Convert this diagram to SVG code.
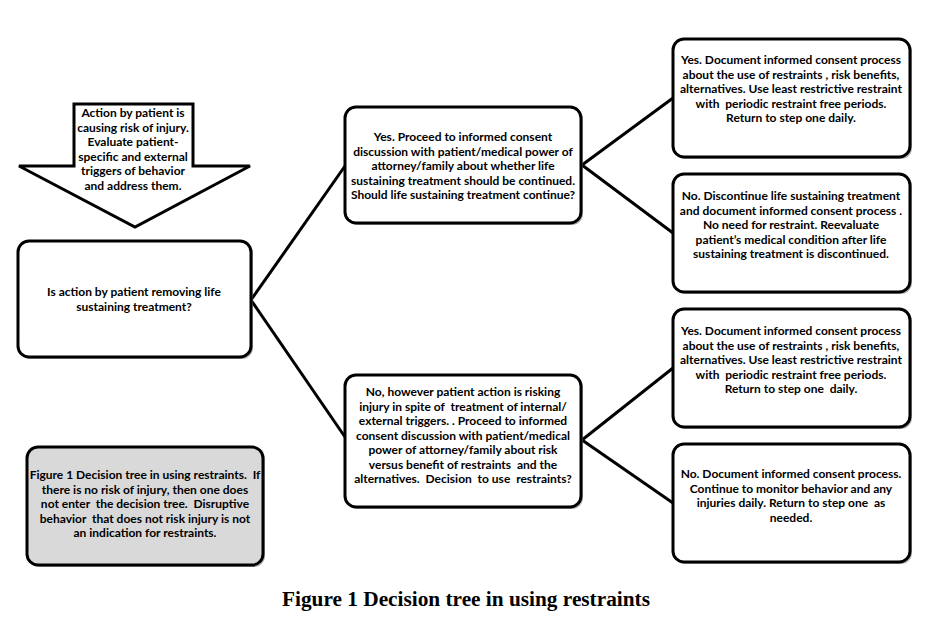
<svg xmlns="http://www.w3.org/2000/svg" width="932" height="623" viewBox="0 0 932 623">
<style>
.box{fill:#ffffff;stroke:#000000;stroke-width:3}
.gbox{fill:#d9d9d9;stroke:#000000;stroke-width:3}
.sh{fill:#7f7f7f;opacity:0.6}
.t{font-family:Lato,"Liberation Sans",sans-serif;font-weight:bold;font-size:12px;fill:#000000;text-anchor:middle;white-space:pre}
.title{font-family:"Liberation Serif",serif;font-weight:bold;font-size:21.3px;fill:#000000;text-anchor:middle}
.conn{stroke:#000000;stroke-width:3;fill:none}
</style>
<rect width="932" height="623" fill="#ffffff"/>
<g id="connectors">
<line class="conn" x1="251" y1="300" x2="345" y2="166"/>
<line class="conn" x1="251" y1="300" x2="345" y2="437"/>
<line class="conn" x1="582" y1="165" x2="673" y2="98"/>
<line class="conn" x1="582" y1="165" x2="673" y2="233"/>
<line class="conn" x1="582" y1="440" x2="673" y2="368"/>
<line class="conn" x1="582" y1="440" x2="673" y2="503"/>
</g>
<g id="start-arrow">
<polygon points="74,104 193,104 193,166 250,166 135,227 19,166 74,166" class="box"/>
<text class="t"><tspan x="133" y="117">Action by patient is</tspan><tspan x="133" y="131.5">causing risk of injury.</tspan><tspan x="133" y="146">Evaluate patient-</tspan><tspan x="133" y="160.5">specific and external</tspan><tspan x="133" y="175">triggers of behavior</tspan><tspan x="133" y="189.5">and address them.</tspan></text>
</g>
<g id="question">
<rect x="20" y="243" width="233" height="116" rx="11" class="sh"/>
<rect x="18" y="241" width="233" height="116" rx="11" class="box"/>
<text class="t"><tspan x="134" y="296">Is action by patient removing life</tspan><tspan x="134" y="310.5">sustaining treatment?</tspan></text>
</g>
<g id="yes-mid">
<rect x="347" y="109" width="236" height="116" rx="11" class="sh"/>
<rect x="345" y="107" width="236" height="116" rx="11" class="box"/>
<text class="t"><tspan x="463" y="141">Yes. Proceed to informed consent</tspan><tspan x="463" y="155.5">discussion with patient/medical power of</tspan><tspan x="463" y="170">attorney/family about whether life</tspan><tspan x="463" y="184.5">sustaining treatment should be continued.</tspan><tspan x="463" y="199">Should life sustaining treatment continue?</tspan></text>
</g>
<g id="no-mid">
<rect x="347" y="377" width="236" height="132" rx="11" class="sh"/>
<rect x="345" y="375" width="236" height="132" rx="11" class="box"/>
<text class="t"><tspan x="463" y="396">No, however patient action is risking</tspan><tspan x="463" y="410.5">injury in spite of  treatment of internal/</tspan><tspan x="463" y="425">external triggers. . Proceed to informed</tspan><tspan x="463" y="439.5">consent discussion with patient/medical</tspan><tspan x="463" y="454">power of attorney/family about risk</tspan><tspan x="463" y="468.5">versus benefit of restraints  and the</tspan><tspan x="463" y="483">alternatives.  Decision  to use  restraints?</tspan></text>
</g>
<g id="yes-restraint-1">
<rect x="675" y="41" width="237" height="118" rx="11" class="sh"/>
<rect x="673" y="39" width="237" height="118" rx="11" class="box"/>
<text class="t"><tspan x="791" y="64">Yes. Document informed consent process</tspan><tspan x="791" y="78.5">about the use of restraints , risk benefits,</tspan><tspan x="791" y="93">alternatives. Use least restrictive restraint</tspan><tspan x="791" y="107.5">with  periodic restraint free periods.</tspan><tspan x="791" y="122">Return to step one daily.</tspan></text>
</g>
<g id="no-discontinue">
<rect x="675" y="176" width="237" height="118" rx="11" class="sh"/>
<rect x="673" y="174" width="237" height="118" rx="11" class="box"/>
<text class="t"><tspan x="791" y="200">No. Discontinue life sustaining treatment</tspan><tspan x="791" y="214.5">and document informed consent process .</tspan><tspan x="791" y="229">No need for restraint. Reevaluate</tspan><tspan x="791" y="243.5">patient’s medical condition after life</tspan><tspan x="791" y="258">sustaining treatment is discontinued.</tspan></text>
</g>
<g id="yes-restraint-2">
<rect x="675" y="311" width="237" height="118" rx="11" class="sh"/>
<rect x="673" y="309" width="237" height="118" rx="11" class="box"/>
<text class="t"><tspan x="791" y="335">Yes. Document informed consent process</tspan><tspan x="791" y="349.5">about the use of restraints , risk benefits,</tspan><tspan x="791" y="364">alternatives. Use least restrictive restraint</tspan><tspan x="791" y="378.5">with  periodic restraint free periods.</tspan><tspan x="791" y="393">Return to step one  daily.</tspan></text>
</g>
<g id="no-monitor">
<rect x="675" y="446" width="237" height="118" rx="11" class="sh"/>
<rect x="673" y="444" width="237" height="118" rx="11" class="box"/>
<text class="t"><tspan x="791" y="478">No. Document informed consent process.</tspan><tspan x="791" y="492.5">Continue to monitor behavior and any</tspan><tspan x="791" y="507">injuries daily. Return to step one  as</tspan><tspan x="791" y="521.5">needed.</tspan></text>
</g>
<g id="note">
<rect x="29" y="449" width="236" height="118" rx="11" class="sh"/>
<rect x="27" y="447" width="236" height="118" rx="11" class="gbox"/>
<text class="t"><tspan x="145" y="479">Figure 1 Decision tree in using restraints.  If</tspan><tspan x="145" y="493.5">there is no risk of injury, then one does</tspan><tspan x="145" y="508">not enter  the decision tree.  Disruptive</tspan><tspan x="145" y="522.5">behavior  that does not risk injury is not</tspan><tspan x="145" y="537">an indication for restraints.</tspan></text>
</g>
<text class="title" x="466" y="606">Figure 1 Decision tree in using restraints</text>
</svg>
